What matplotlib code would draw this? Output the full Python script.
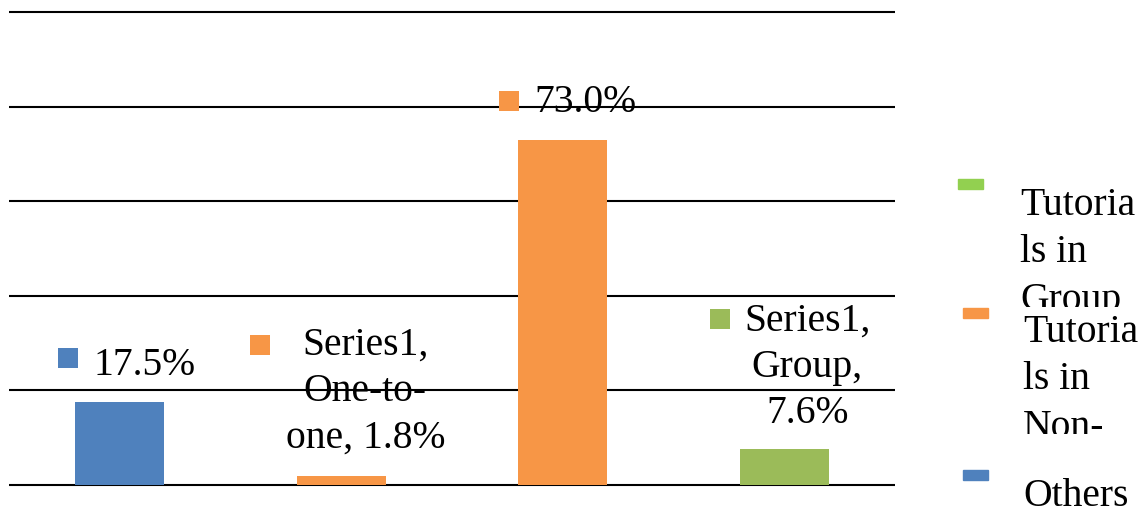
import textwrap
import matplotlib
matplotlib.use("Agg")
import matplotlib.pyplot as plt
from matplotlib.patches import Rectangle
from matplotlib.transforms import offset_copy

# ---- data ----
series_name = "Series1"
categories = ["Others", "One-to-one", "Non-group", "Group"]
values = [17.5, 1.8, 73.0, 7.6]
bar_colors = ["#4F81BD", "#F79646", "#F79646", "#9BBB59"]
show_series_cat = [False, True, False, True]
legend_labels = ["Tutorials in Group", "Tutorials in Non-group", "Others"]
legend_colors = ["#92D050", "#F79646", "#4F81BD"]
gridlines = [0, 20, 40, 60, 80, 100]

W, H = 1143, 512
plt.rcParams["font.family"] = ["Liberation Serif", "DejaVu Serif"]
FS = 28.5
LS_LABEL = 1.33
LS_LEG = 1.37

fig = plt.figure(figsize=(W / 100, H / 100), dpi=100)
ax = fig.add_axes([9 / W, (H - 485) / H, 886 / W, (485 - 12) / H])
ax.set_xlim(-0.5, len(values) - 0.5)
ax.set_ylim(0, 100)
ax.axis("off")

ax.hlines(gridlines, -0.5, len(values) - 0.5, colors="black", lw=1.5, clip_on=False, zorder=1)

x = list(range(len(values)))
ax.bar(x, values, width=0.4, color=bar_colors, zorder=2)

# label placement (pixel offsets from bar top centre): text centre, square centre
text_off = [(25, 37), (24, 85), (23, 37), (23, 82)]
sq_off = [(-52, 44), (-81, 131), (-54, 39), (-64, 130)]

for i, v in enumerate(values):
    if show_series_cat[i]:
        txt = f"{series_name}, {categories[i]}, {v:.1f}%"
        txt = "\n".join(textwrap.wrap(txt, 9))
    else:
        txt = f"{v:.1f}%"
    ax.annotate(txt, xy=(i, v), xytext=text_off[i], textcoords="offset pixels",
                ha="center", va="center", fontsize=FS, linespacing=LS_LABEL,
                annotation_clip=False, zorder=3)
    tr = offset_copy(ax.transData, fig=fig, x=sq_off[i][0], y=sq_off[i][1], units="dots")
    ax.plot([i], [v], marker="s", ms=14, mew=0, color=bar_colors[i],
            transform=tr, clip_on=False, zorder=3)

# legend (manual, Excel-like clipped wrapped entries)
leg_sq = [(958, 179), (963, 308), (963, 470)]
leg_txt = [(1020, 187, 180, 307), (1023, 314, 308, 434), (1023, 478, 460, 512)]
for lab, col, (sx, sy), (tx, ty, c0, c1) in zip(legend_labels, legend_colors, leg_sq, leg_txt):
    fig.patches.append(Rectangle((sx / W, 1 - (sy + 10) / H), 25 / W, 10 / H,
                                 transform=fig.transFigure, color=col))
    t = fig.text(tx / W, 1 - ty / H, "\n".join(textwrap.wrap(lab, 7)),
                 ha="left", va="top", fontsize=FS, linespacing=LS_LEG)
    clip = Rectangle((tx / W - 0.01, 1 - c1 / H), 0.2, (c1 - c0) / H,
                     transform=fig.transFigure, visible=False)
    fig.patches.append(clip)
    t.set_clip_path(clip)
    t.set_clip_on(True)

fig.savefig("out.png", dpi=100, facecolor="white")
